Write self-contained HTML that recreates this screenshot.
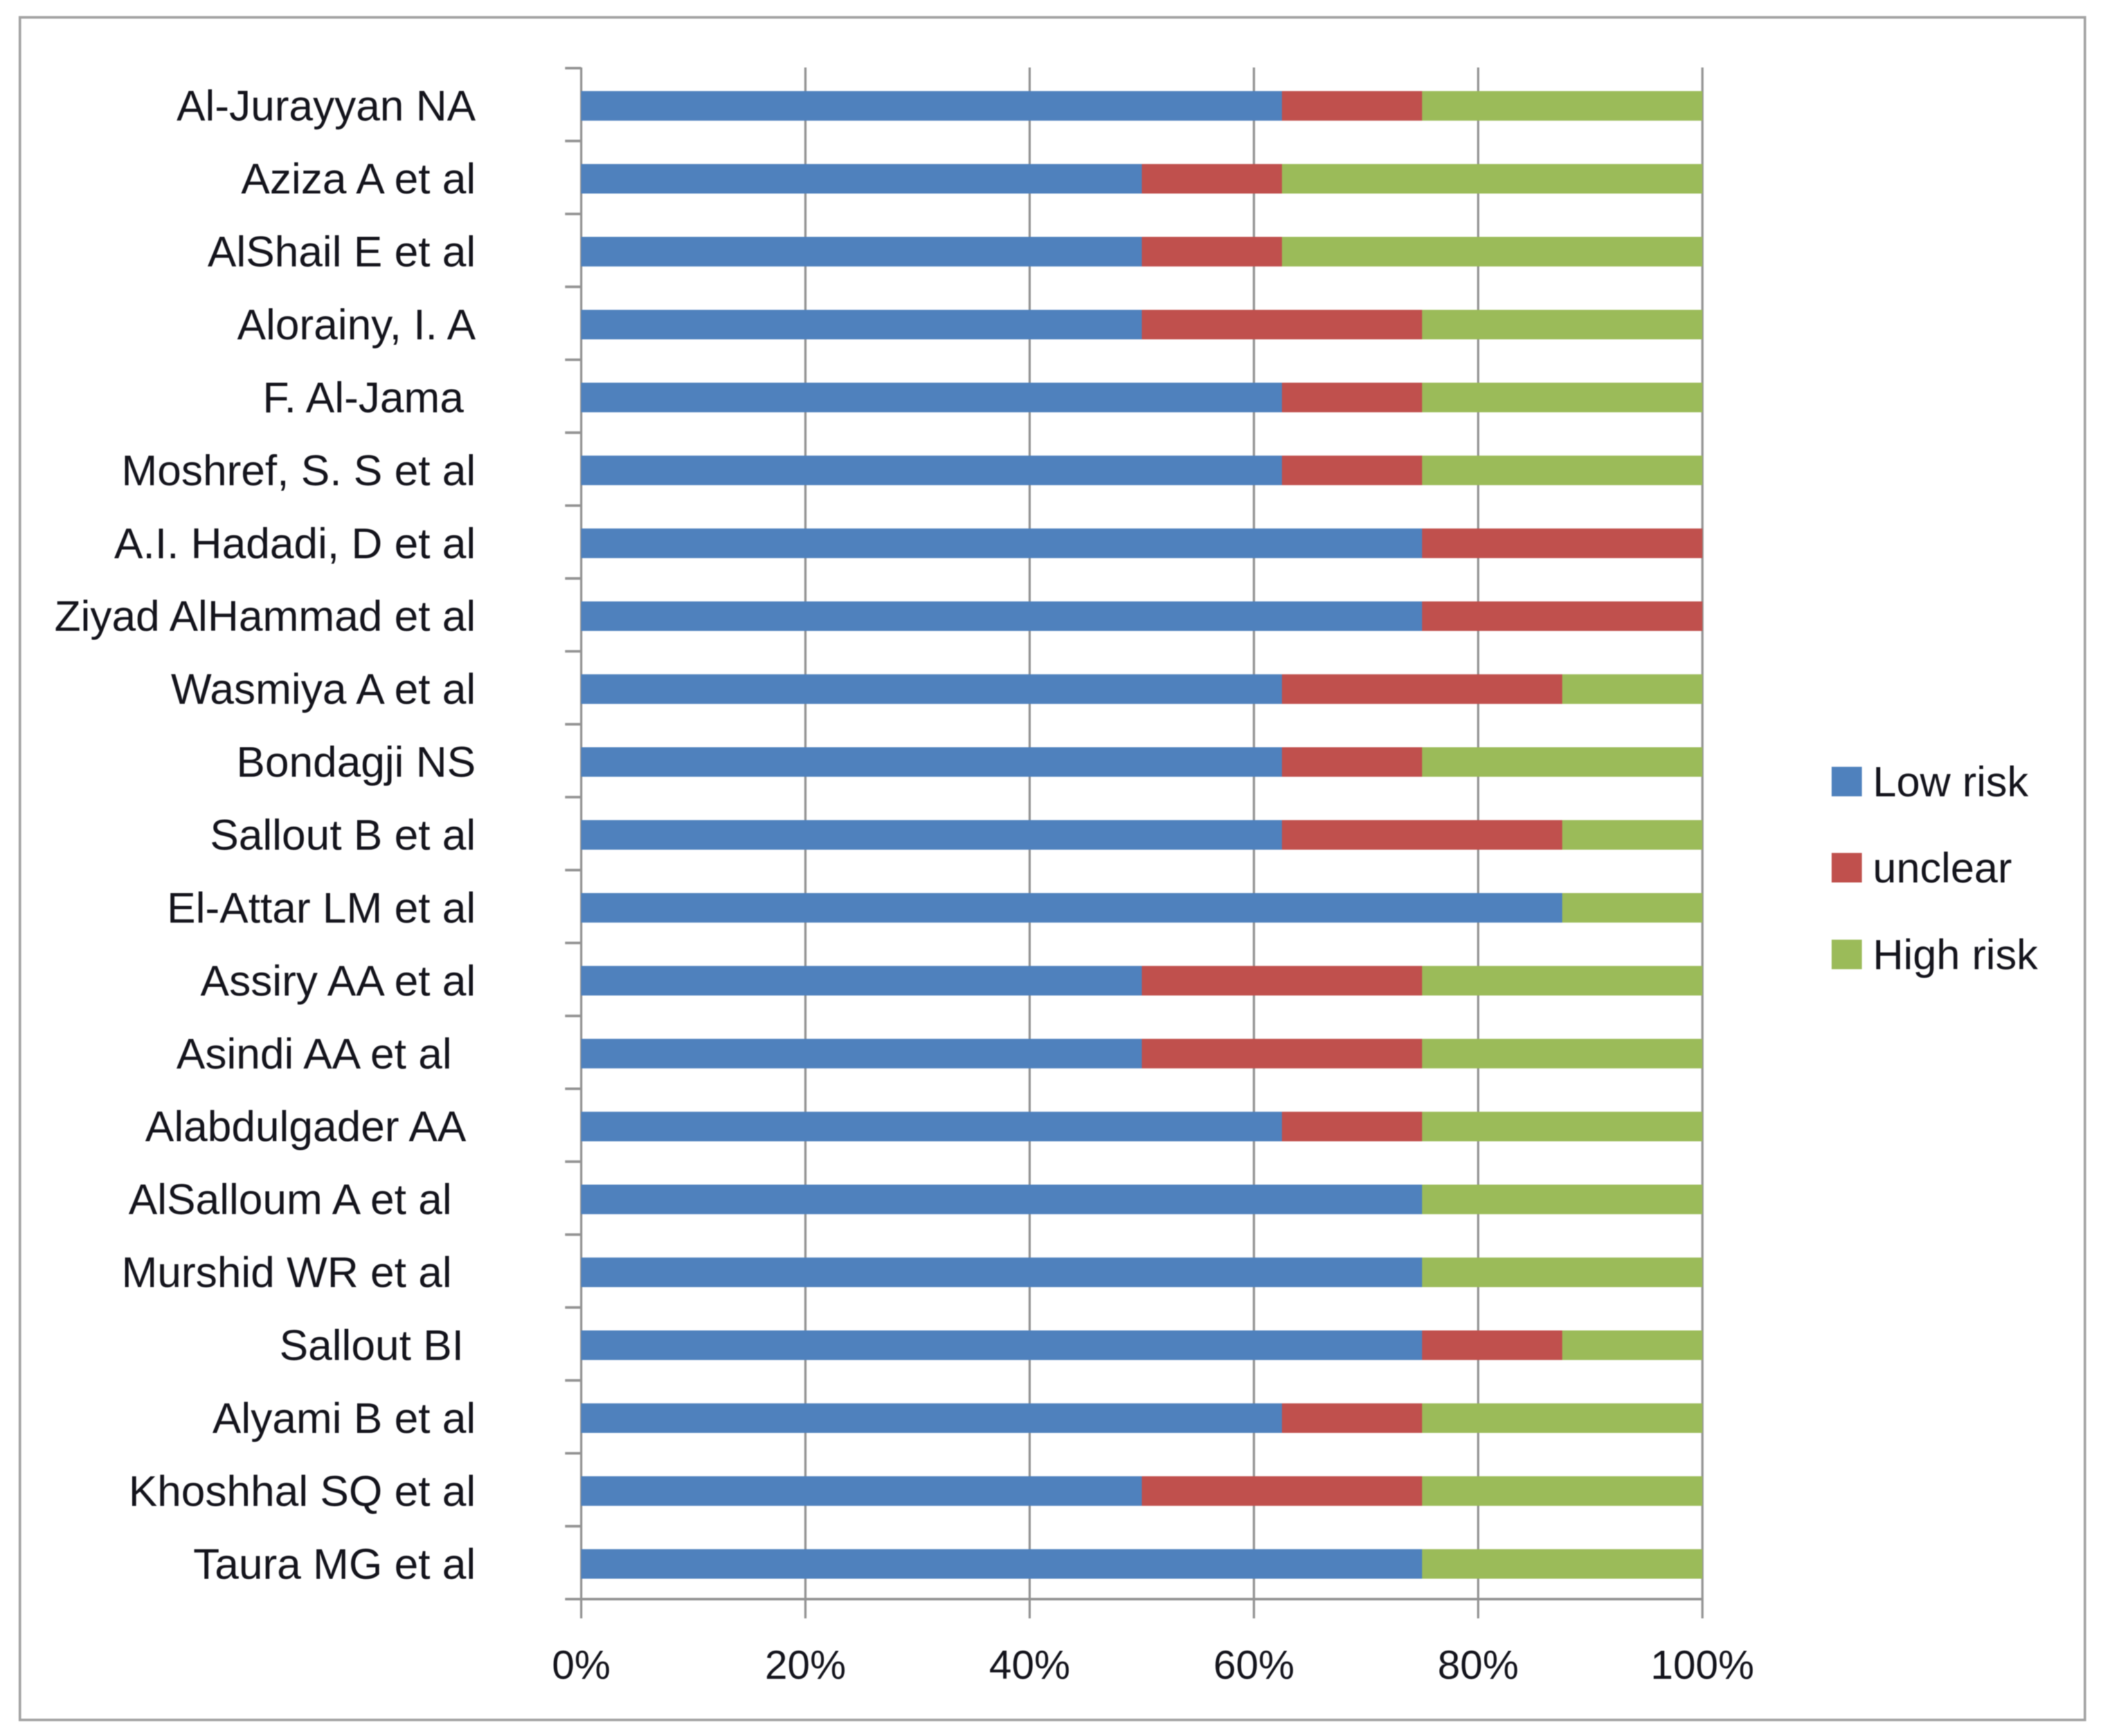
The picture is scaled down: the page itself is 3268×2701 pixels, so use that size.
<!DOCTYPE html>
<html lang="en">
<head>
<meta charset="utf-8">
<title>Risk of bias by study</title>
<style>
  html, body { margin: 0; padding: 0; background: #fff; }
  body { width: 3268px; height: 2701px; overflow: hidden; }
  svg { display: block; }
  text { font-family: "Liberation Sans", sans-serif; fill: #14141c; white-space: pre; }
  #chart-content { filter: blur(0.8px); }
</style>
</head>
<body>
<svg id="chart" xmlns="http://www.w3.org/2000/svg" width="3268" height="2701" viewBox="0 0 3268 2701">
  <g id="chart-content">
    <rect x="31" y="27" width="3212" height="2649" fill="#fff" stroke="#a3a3a3" stroke-width="4"/>
    <g id="grid"></g>
    <g id="cat-axis"></g>
    <g id="bars"></g>
    <g id="cat-labels"></g>
    <g id="val-labels"></g>
    <g id="legend"></g>
  </g>
</svg>
<script>
const categories = ["Al-Jurayyan NA","Aziza A et al","AlShail E et al","Alorainy, I. A","F. Al-Jama ","Moshref, S. S et al","A.I. Hadadi, D et al","Ziyad AlHammad et al","Wasmiya A et al","Bondagji NS","Sallout B et al","El-Attar LM et al","Assiry AA et al","Asindi AA et al  ","Alabdulgader AA ","AlSalloum A et al  ","Murshid WR et al  ","Sallout BI ","Alyami B et al","Khoshhal SQ et al","Taura MG et al"];
const lowRisk  = [62.5,50,50,50,62.5,62.5,75,75,62.5,62.5,62.5,87.5,50,50,62.5,75,75,75,62.5,50,75];
const unclear  = [12.5,12.5,12.5,25,12.5,12.5,25,25,25,12.5,25,0,25,25,12.5,0,0,12.5,12.5,25,0];
const highRisk = [25,37.5,37.5,25,25,25,0,0,12.5,25,12.5,12.5,25,25,25,25,25,12.5,25,25,25];
const seriesNames = ["Low risk","unclear","High risk"];
const valueTicks = [0,20,40,60,80,100];
const tickSuffix = "%";

const NS = "http://www.w3.org/2000/svg";
const plot = { left: 904, right: 2648, top: 106, bottom: 2488 };
const colors = ["#4f81bd", "#c0504d", "#9bbb59"];
const bandH = (plot.bottom - plot.top) / categories.length;
const barH = 46;
const barOffset = 2;

function xScale(v) { return plot.left + (v / 100) * (plot.right - plot.left); }
function yBand(i) { return plot.top + bandH * i; }
function yCenter(i) { return yBand(i) + bandH / 2 + barOffset; }

function make(tag, attrs, parent) {
  const el = document.createElementNS(NS, tag);
  for (const k in attrs) el.setAttribute(k, attrs[k]);
  parent.appendChild(el);
  return el;
}
function slug(s) { return s.trim().toLowerCase().replace(/[^a-z0-9]+/g, "-").replace(/^-|-$/g, ""); }

const grid = document.getElementById("grid");
valueTicks.forEach(function (t) {
  const line = make("line", { x1: xScale(t), x2: xScale(t), y1: plot.top - 1, y2: plot.bottom + 30, stroke: "#939393", "stroke-width": 3.5 }, grid);
  
  
});

const catAxis = document.getElementById("cat-axis");
const axisLine = make("line", { x1: plot.left, x2: plot.right, y1: plot.bottom, y2: plot.bottom, stroke: "#939393", "stroke-width": 4 }, catAxis);


for (let i = 0; i <= categories.length; i++) {
  const tick = make("line", { x1: plot.left - 25, x2: plot.left, y1: yBand(i), y2: yBand(i), stroke: "#939393", "stroke-width": 4 }, catAxis);
  
  
}

const barsG = document.getElementById("bars");
const series = [lowRisk, unclear, highRisk];
categories.forEach(function (name, i) {
  let acc = 0;
  series.forEach(function (values, s) {
    const v = values[i];
    if (v > 0) {
      const rect = make("rect", { x: xScale(acc), y: yCenter(i) - barH / 2, width: xScale(acc + v) - xScale(acc), height: barH, fill: colors[s] }, barsG);
      
      
    }
    acc += v;
  });
});

const catLabels = document.getElementById("cat-labels");
categories.forEach(function (name, i) {
  const label = make("text", { x: 740, y: yCenter(i) + 23, "text-anchor": "end", "font-size": 67 }, catLabels);
  label.textContent = name;
  
  
});

const valLabels = document.getElementById("val-labels");
valueTicks.forEach(function (t) {
  const label = make("text", { x: xScale(t), y: 2612, "text-anchor": "middle", "font-size": 63 }, valLabels);
  label.textContent = t + tickSuffix;
  
  
});

const legendG = document.getElementById("legend");
const legendY = [1216, 1350, 1485];
seriesNames.forEach(function (name, s) {
  const swatch = make("rect", { x: 2849, y: legendY[s] - 23, width: 47, height: 46, fill: colors[s] }, legendG);
  
  
  const label = make("text", { x: 2913, y: legendY[s] + 23, "font-size": 66 }, legendG);
  label.textContent = name;
  
  
});
</script>
</body>
</html>
